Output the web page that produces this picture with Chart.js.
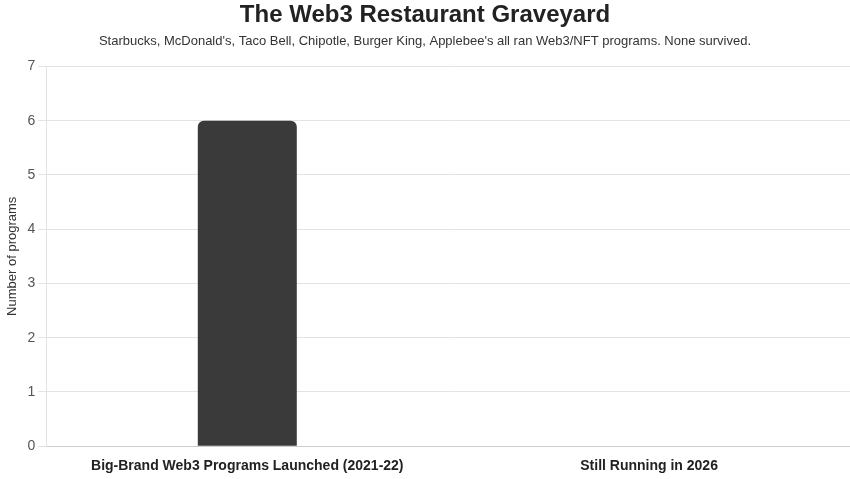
<!DOCTYPE html>
<html>
<head>
<meta charset="utf-8">
<script src="https://cdn.jsdelivr.net/npm/chart.js@4/dist/chart.umd.min.js"></script>
<style>
html,body{margin:0;padding:0;background:#fff;}
#wrap{width:850px;height:479px;position:relative;}
</style>
</head>
<body>
<div id="wrap"><canvas id="c"></canvas></div>
<script>
const categories = ["Big-Brand Web3 Programs Launched (2021-22)", "Still Running in 2026"];
const programCounts = [6, 0];
const barColors = ["#3a3a3a", "#c0504d"];
const titleText = "The Web3 Restaurant Graveyard";
const subtitleText = "Starbucks, McDonald's, Taco Bell, Chipotle, Burger King, Applebee's all ran Web3/NFT programs. None survived.";
const yAxisTitle = "Number of programs";

Chart.defaults.font.family = "'Liberation Sans', Arial, sans-serif";
new Chart(document.getElementById('c'), {
  type: 'bar',
  data: {
    labels: categories,
    datasets: [{
      data: programCounts,
      backgroundColor: barColors,
      borderColor: barColors,
      borderRadius: 6,
      borderSkipped: 'bottom',
      maxBarThickness: 99,
      barPercentage: 0.5,
      categoryPercentage: 1
    }]
  },
  options: {
    responsive: true,
    maintainAspectRatio: false,
    animation: false,
    layout: { padding: { left: 0, right: 0, top: 0, bottom: 0 } },
    plugins: {
      legend: { display: false },
      tooltip: { enabled: false },
      title: {
        display: true, text: titleText, color: '#222',
        font: { size: 24, weight: 'bold' },
        padding: { top: 1, bottom: 3 }
      },
      subtitle: {
        display: true, text: subtitleText, color: '#333',
        font: { size: 13 },
        padding: { top: 1, bottom: 17 }
      }
    },
    scales: {
      x: {
        grid: { display: false },
        border: { color: '#ccc' },
        ticks: { color: '#222', font: { size: 14, weight: 'bold' }, padding: 4 }
      },
      y: {
        min: 0, max: 7,
        ticks: { stepSize: 1, color: '#555', font: { size: 14 }, padding: 3 },
        grid: { color: '#e3e3e3', tickLength: 8 },
        border: { color: '#e3e3e3' },
        title: { display: true, text: yAxisTitle, color: '#333', font: { size: 13 }, padding: { top: 5, bottom: 4 } }
      }
    }
  }
});
</script>
</body>
</html>
